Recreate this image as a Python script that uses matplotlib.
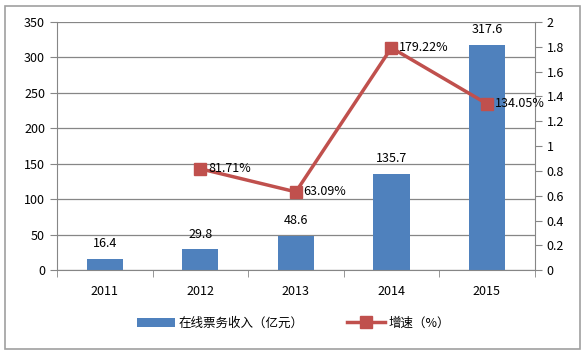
import matplotlib.pyplot as plt
from matplotlib.patches import Rectangle

plt.rcParams['font.family'] = ['Noto Sans CJK SC', 'DejaVu Sans']

# data
years = ['2011', '2012', '2013', '2014', '2015']
revenue = [16.4, 29.8, 48.6, 135.7, 317.6]
growth_years = [1, 2, 3, 4]
growth = [0.8171, 0.6309, 1.7922, 1.3405]
growth_labels = ['81.71%', '63.09%', '179.22%', '134.05%']

bar_color = '#4F81BD'
line_color = '#C0504D'
grid_color = '#868686'

fig = plt.figure(figsize=(5.87, 3.55), dpi=100)
fig.patches.append(Rectangle((0.008, 0.017), 0.98, 0.966, transform=fig.transFigure,
                             fill=False, edgecolor='#A0A0A0', linewidth=1.2))

ax = fig.add_axes([0.097, 0.239, 0.814, 0.699])
x = list(range(len(years)))
bars = ax.bar(x, revenue, width=0.38, color=bar_color, label='在线票务收入（亿元）', zorder=2)
for xi, v in zip(x, revenue):
    ax.text(xi, v + 12, f'{v:.1f}', ha='center', va='bottom', fontsize=9)

ax.set_ylim(0, 350)
ax.set_yticks(range(0, 351, 50))
ax.set_xlim(-0.5, 4.5)
ax.set_xticks(x)
ax.set_xticklabels(years)
ax.set_xticks([i - 0.5 for i in range(6)], minor=True)
ax.tick_params(axis='x', which='major', length=0, pad=11, labelsize=9)
ax.tick_params(axis='x', which='minor', length=5, color=grid_color, direction='out')
ax.tick_params(axis='y', length=5, color=grid_color, labelsize=9, direction='out')
ax.yaxis.grid(True, color=grid_color, linewidth=0.9, zorder=0)
ax.set_axisbelow(True)
for s in ['top', 'right']:
    ax.spines[s].set_visible(False)
ax.spines['left'].set_color(grid_color)
ax.spines['bottom'].set_color(grid_color)

ax2 = ax.twinx()
line, = ax2.plot(growth_years, growth, color=line_color, linewidth=2.5, marker='s',
                 markersize=8, label='增速（%）', zorder=3)
for xi, v, t in zip(growth_years, growth, growth_labels):
    ax2.text(xi + 0.08, v, t, ha='left', va='center', fontsize=9)
ax2.set_ylim(0, 2)
ax2.set_yticks([i / 10 for i in range(0, 21, 2)])
ax2.set_yticklabels(['0', '0.2', '0.4', '0.6', '0.8', '1', '1.2', '1.4', '1.6', '1.8', '2'])
ax2.tick_params(axis='y', length=5, color=grid_color, labelsize=9, direction='out')
for s in ['top', 'left', 'bottom']:
    ax2.spines[s].set_visible(False)
ax2.spines['right'].set_color(grid_color)

fig.legend([bars, line], ['在线票务收入（亿元）', '增速（%）'], loc='center',
           bbox_to_anchor=(0.5, 0.09), ncol=2, frameon=False, fontsize=9,
           handlelength=3.0, handletextpad=0.3, columnspacing=3.5)

fig.savefig('out.png', dpi=100)
